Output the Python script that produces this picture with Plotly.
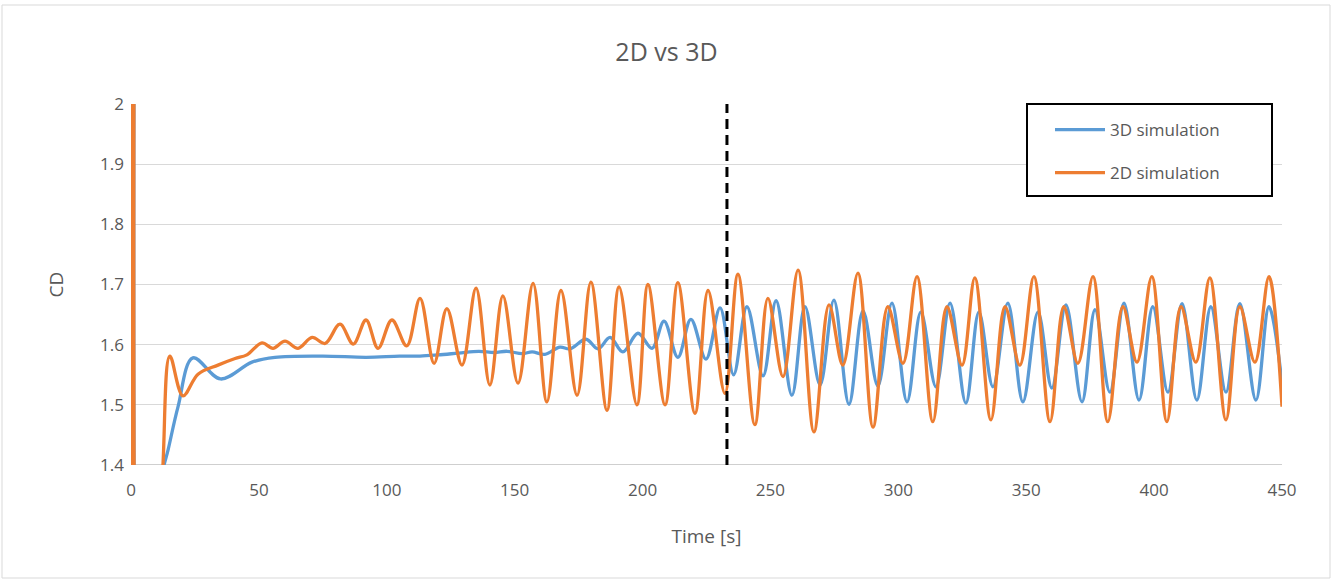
import plotly.graph_objects as go

# ---- data (extrema of each curve) ----
t_3d = [0, 1.6, 3.6, 9, 12, 14.5, 18.4, 24.2, 35.0, 47.3, 56.3, 75, 92, 105, 113, 120, 128, 136,
        142, 147, 153, 156.8, 161.8, 167.7, 171.6, 177.9, 182.6, 187.3, 192.3, 198.2, 203.7,
        208.4, 213.8, 218.9, 224.8, 230.3, 235.6, 240.8, 247.1, 252.2, 258.4, 263.5, 269.4,
        274.8, 280.7, 286.2, 292.0, 297.5, 303.4, 308.8, 314.7, 320.2, 326.4, 331.5, 337.0,
        342.8, 348.7, 354.6, 360.0, 365.5, 371.8, 376.9, 382.7, 388.2, 394.1, 399.5, 405.4,
        410.9, 416.7, 422.2, 428.1, 433.5, 439.8, 444.9, 450]
cd_3d = [0.9, 3.0, 0.9, 1.1, 1.38, 1.425, 1.497, 1.578, 1.543, 1.571, 1.579, 1.581, 1.579, 1.581,
         1.581, 1.583, 1.586, 1.589, 1.587, 1.589, 1.585, 1.588, 1.584, 1.596, 1.593, 1.609,
         1.593, 1.612, 1.588, 1.619, 1.594, 1.639, 1.579, 1.642, 1.576, 1.661, 1.550, 1.663,
         1.548, 1.673, 1.516, 1.663, 1.533, 1.674, 1.501, 1.656, 1.531, 1.669, 1.505, 1.654,
         1.530, 1.669, 1.503, 1.654, 1.530, 1.669, 1.505, 1.654, 1.528, 1.666, 1.505, 1.658,
         1.521, 1.669, 1.508, 1.663, 1.521, 1.668, 1.508, 1.663, 1.521, 1.668, 1.508, 1.663,
         1.536]

t_2d = [0, 1.8, 4.3, 9, 12.5, 15.2, 20.3, 26.2, 34, 40.7, 45.3, 51.2, 55.5, 60.2, 65.3, 70.8,
        75.9, 81.7, 86.9, 91.9, 96.6, 102, 107.8, 113.0, 118.5, 123.5, 129.4, 134.9, 140.3,
        145.4, 151.3, 157.2, 162.6, 168.1, 174.4, 179.8, 186.1, 190.8, 197.8, 202.1, 208.8,
        213.8, 220.5, 225.6, 232.2, 237.3, 243.9, 249.0, 254.9, 260.8, 267.0, 272.9, 278.3,
        284.2, 290.1, 295.9, 301.8, 307.3, 313.5, 319.0, 324.9, 329.9, 336.2, 341.7, 347.5,
        353.0, 359.3, 364.7, 370.2, 376.1, 381.9, 387.8, 393.3, 399.1, 405.0, 410.5, 416.3,
        421.8, 428.1, 433.5, 439.4, 444.9, 450]
cd_2d = [0.9, 3.0, 0.9, 1.0, 1.40, 1.581, 1.515, 1.551, 1.566, 1.577, 1.583, 1.603, 1.594, 1.606,
         1.594, 1.612, 1.602, 1.634, 1.601, 1.641, 1.594, 1.641, 1.598, 1.677, 1.569, 1.660,
         1.566, 1.694, 1.533, 1.681, 1.536, 1.702, 1.505, 1.690, 1.516, 1.704, 1.491, 1.696,
         1.500, 1.700, 1.500, 1.703, 1.486, 1.690, 1.519, 1.717, 1.467, 1.677, 1.547, 1.724,
         1.455, 1.666, 1.566, 1.719, 1.463, 1.663, 1.569, 1.713, 1.472, 1.663, 1.566, 1.711,
         1.475, 1.663, 1.566, 1.713, 1.472, 1.663, 1.569, 1.713, 1.472, 1.663, 1.571, 1.713,
         1.472, 1.663, 1.571, 1.711, 1.475, 1.663, 1.571, 1.713, 1.497]

x_ticks = [0, 50, 100, 150, 200, 250, 300, 350, 400, 450]
y_ticks = [1.4, 1.5, 1.6, 1.7, 1.8, 1.9, 2.0]
y_tick_text = ["1.4", "1.5", "1.6", "1.7", "1.8", "1.9", "2"]
marker_time = 233

FONT = "Open Sans"
GREY = "#595959"

fig = go.Figure()
fig.add_trace(go.Scatter(x=t_3d, y=cd_3d, mode="lines", name="3D simulation",
                         line=dict(color="#5B9BD5", width=3.3, shape="spline", smoothing=1),
                         legendgroup="a"))
fig.add_trace(go.Scatter(x=t_2d, y=cd_2d, mode="lines", name="2D simulation",
                         line=dict(color="#ED7D31", width=3.3, shape="spline", smoothing=1),
                         legendgroup="b"))

W, H = 1333, 581
L, R, T, B = 131, 1282, 104, 465
def px(xp):
    return (xp - L) / (R - L)
def py(yp):
    return (B - yp) / (B - T)

fig.update_layout(
    width=W, height=H,
    margin=dict(l=L, r=W - R, t=T, b=H - B),
    paper_bgcolor="white", plot_bgcolor="white",
    font=dict(family=FONT, color=GREY, size=17),
    title=dict(text="2D vs 3D", x=0.5, xref="container", y=1 - 52 / H, yref="container",
               xanchor="center", yanchor="middle", font=dict(size=25, color=GREY, family=FONT)),
    xaxis=dict(range=[0, 450], tickvals=x_ticks, showgrid=False, zeroline=False,
               showline=False, ticks="", ticklabelstandoff=13, tickfont=dict(size=17, color=GREY),
               title=dict(text="Time [s]", font=dict(size=19, color=GREY), standoff=29)),
    yaxis=dict(range=[1.4, 2.0], tickvals=y_ticks, ticktext=y_tick_text, showgrid=True,
               gridcolor="#D9D9D9", gridwidth=1, zeroline=False, showline=False, ticks="",
               ticklabelstandoff=6, tickfont=dict(size=17, color=GREY),
               title=dict(text="CD", font=dict(size=19, color=GREY), standoff=31)),
    showlegend=True,
    legend=dict(x=px(1050), y=py(112), xanchor="left", yanchor="top",
                bgcolor="rgba(0,0,0,0)", borderwidth=0, traceorder="grouped",
                tracegroupgap=18, itemwidth=50, font=dict(size=17, color=GREY, family=FONT)),
    shapes=[
        # outer chart border
        dict(type="rect", xref="paper", yref="paper", x0=px(2), x1=px(1330), y0=py(578), y1=py(5),
             line=dict(color="#D9D9D9", width=1), fillcolor="rgba(0,0,0,0)", layer="below"),
        # bottom axis line
        dict(type="line", xref="paper", yref="y", x0=0, x1=1, y0=1.4, y1=1.4,
             line=dict(color="#BFBFBF", width=1.5), layer="below"),
        # legend box
        dict(type="rect", xref="paper", yref="paper", x0=px(1027), x1=px(1272), y0=py(196), y1=py(104),
             line=dict(color="black", width=2), fillcolor="white", layer="above"),
        # vertical dashed marker
        dict(type="line", xref="x", yref="y", x0=marker_time, x1=marker_time, y0=1.4, y1=2.0,
             line=dict(color="black", width=3, dash="10px,6px"), layer="above"),
    ],
)

fig.write_html("out.html", config={"displayModeBar": False},
               post_script="document.body.style.margin='0';document.body.style.padding='0';")
